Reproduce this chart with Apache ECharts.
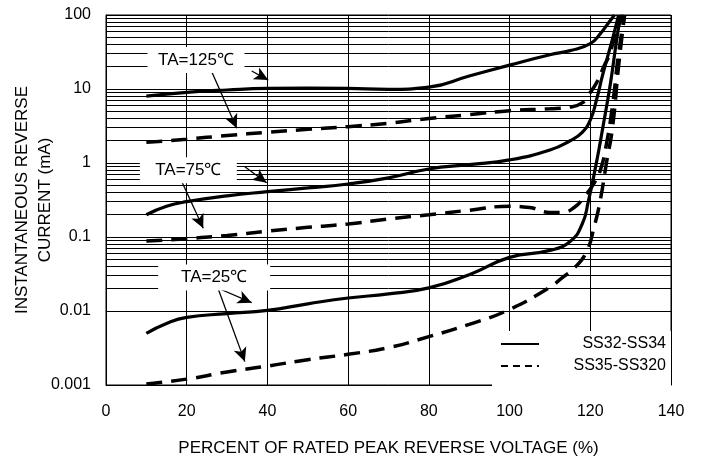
<!DOCTYPE html>
<html>
<head>
<meta charset="utf-8">
<script src="https://cdn.jsdelivr.net/npm/echarts@6/dist/echarts.min.js"></script>
<style>
    html, body { margin: 0; padding: 0; background: #fff; }
    #main { width: 704px; height: 464px; }
</style>
</head>
<body>
<div id="main"></div>
<script>
// x = percent of rated peak reverse voltage, y = reverse current (mA)
let xTicks = [0, 20, 40, 60, 80, 100, 120, 140]
let yLabels = ['0.001', '0.01', '0.1', '1', '10', '100']
let seriesNames = ['SS32-SS34', 'SS35-SS320']

// SS32-SS34 (solid)
let s125x = [10, 20, 30, 40, 50, 60, 70, 80, 90, 100, 110, 115, 120, 122.5, 124.5, 126]
let s125y = [8.0, 9.0, 9.7, 10.2, 10.3, 10.2, 9.9, 10.6, 15, 21, 29, 33, 41, 56, 78, 100]
let s75x = [10, 15, 20, 30, 40, 50, 60, 70, 80, 90, 100, 110, 115, 118, 120, 121.5, 123, 124.5, 126, 127]
let s75y = [0.2, 0.26, 0.3, 0.36, 0.41, 0.46, 0.52, 0.63, 0.83, 0.95, 1.1, 1.5, 2.0, 2.6, 3.8, 7, 15, 30, 60, 100]
let s25x = [10, 15, 20, 30, 40, 50, 60, 70, 80, 90, 100, 110, 115, 118, 119.5, 121.5, 123, 125, 126.5, 127.5]
let s25y = [0.005, 0.0068, 0.0082, 0.0092, 0.0102, 0.0125, 0.015, 0.017, 0.0205, 0.031, 0.053, 0.066, 0.087, 0.15, 0.3, 1.0, 2.8, 12, 45, 100]

// SS35-SS320 (dashed)
let d125x = [10, 20, 30, 40, 50, 60, 70, 80, 90, 100, 110, 115, 118, 119.5, 121.5, 123.5, 124.5, 126.5, 128]
let d125y = [1.9, 2.1, 2.35, 2.6, 2.85, 3.1, 3.45, 4.0, 4.5, 5.1, 5.4, 5.7, 6.5, 8.3, 12, 21, 27, 60, 100]
let d75x = [10, 20, 30, 40, 50, 60, 70, 80, 90, 100, 105, 110, 113, 116, 118.5, 121, 122.5, 124, 125.5, 127, 128.5]
let d75y = [0.088, 0.095, 0.105, 0.12, 0.135, 0.15, 0.175, 0.2, 0.23, 0.26, 0.25, 0.215, 0.215, 0.25, 0.35, 0.54, 0.8, 1.8, 6, 30, 100]
let d25x = [10, 20, 30, 40, 50, 60, 70, 80, 90, 100, 110, 113, 116, 119, 121, 122.5, 124, 125.5, 127, 128.5]
let d25y = [0.00103, 0.0012, 0.0015, 0.0018, 0.0022, 0.0026, 0.0032, 0.0045, 0.0066, 0.0105, 0.021, 0.028, 0.038, 0.062, 0.14, 0.32, 1.0, 3, 20, 100]

function pts(xs, ys) {
    return xs.map(function (x, i) { return [x, ys[i]] })
}

// minor log grid lines 2..9 of every decade
let minorLines = []
for (let d = -3; d < 2; d++) {
    for (let k = 2; k <= 9; k++) {
        minorLines.push({ yAxis: k * Math.pow(10, d) })
    }
}

let fontName = '"Liberation Sans", Arial, sans-serif'
let solidStyle = { color: '#000', width: 3.2, type: 'solid' }
let dashStyle = { color: '#000', width: 3.5, type: [16, 9] }

function curve(name, data, style) {
    return {
        name: name,
        type: 'line',
        data: data,
        symbol: 'none',
        smooth: 0.5,
        color: '#000',
        lineStyle: style,
        z: 3,
        silent: true
    }
}

var myChart = echarts.init(document.getElementById('main'))
var option = {
    animation: false,
    backgroundColor: '#fff',
    textStyle: { fontFamily: fontName },
    grid: {
        left: 106, right: 33, top: 15, bottom: 79,
        outerBoundsMode: 'none',
        containLabel: false,
        show: true, borderColor: '#000', borderWidth: 1
    },
    legend: {
        orient: 'vertical',
        left: 492,
        top: 331,
        backgroundColor: '#fff',
        padding: [5, 5, 13, 8],
        itemWidth: 38,
        itemHeight: 14,
        itemGap: 6,
        selectedMode: false,
        data: [
            { name: seriesNames[0], itemStyle: { opacity: 0 }, lineStyle: { width: 2, type: 'solid' } },
            { name: seriesNames[1], itemStyle: { opacity: 0 }, lineStyle: { width: 2, type: [7, 5] } }
        ],
        formatter: function (name) { return '{t|' + name + '}' },
        textStyle: {
            rich: {
                t: { width: 122, align: 'right', fontSize: 16, color: '#000', fontFamily: fontName }
            }
        }
    },
    xAxis: {
        type: 'value',
        min: xTicks[0],
        max: xTicks[xTicks.length - 1],
        interval: 20,
        name: 'PERCENT OF RATED PEAK REVERSE VOLTAGE (%)',
        nameLocation: 'middle',
        nameGap: 55,
        nameTextStyle: { fontSize: 17, color: '#000' },
        axisLine: { lineStyle: { color: '#000' } },
        axisTick: { show: false },
        axisLabel: { fontSize: 16, color: '#000', margin: 19 },
        splitLine: { show: true, lineStyle: { color: '#000', width: 1 } }
    },
    yAxis: {
        type: 'log',
        logBase: 10,
        min: 0.001,
        max: 100,
        name: 'INSTANTANEOUS REVERSE\nCURRENT (mA)',
        nameLocation: 'middle',
        nameMoveOverlap: false,
        nameGap: 49,
        nameTextStyle: { fontSize: 17, color: '#000', lineHeight: 23 },
        axisLine: { lineStyle: { color: '#000' } },
        axisTick: { show: false },
        axisLabel: {
            fontSize: 16, color: '#000', margin: 15,
            formatter: function (v) {
                return yLabels[Math.round(Math.log10(v)) + 3]
            }
        },
        splitLine: { show: true, lineStyle: { color: '#000', width: 1 } }
    },
    series: [
        {
            // helper: minor grid lines
            type: 'line',
            data: [],
            z: 1,
            silent: true,
            markLine: {
                silent: true,
                symbol: 'none',
                label: { show: false },
                animation: false,
                lineStyle: { color: '#000', width: 1, type: 'solid' },
                data: minorLines
            }
        },
        curve(seriesNames[0], pts(s125x, s125y), solidStyle),
        curve(seriesNames[0], pts(s75x, s75y), solidStyle),
        curve(seriesNames[0], pts(s25x, s25y), solidStyle),
        curve(seriesNames[1], pts(d125x, d125y), dashStyle),
        curve(seriesNames[1], pts(d75x, d75y), dashStyle),
        curve(seriesNames[1], pts(d25x, d25y), dashStyle),
        {
            // temperature notes with arrows
            type: 'line',
            data: [],
            z: 5,
            silent: true,
            markLine: {
                silent: true,
                animation: false,
                symbol: ['none', 'arrow'],
                symbolSize: [10, 14],
                label: { show: false },
                lineStyle: { color: '#000', width: 1.3, type: 'solid' },
                data: [
                    [{ coord: [36.1, 17.5] }, { coord: [40.2, 13.2] }],
                    [{ coord: [26.2, 17.1] }, { coord: [32.4, 2.94] }],
                    [{ coord: [34.4, 0.89] }, { coord: [39.8, 0.542] }],
                    [{ coord: [18.8, 0.558] }, { coord: [24.1, 0.131] }],
                    [{ coord: [27.8, 0.0203] }, { coord: [36.1, 0.01294] }],
                    [{ coord: [27.7, 0.0206] }, { coord: [34.4, 0.00207] }]
                ]
            },
            markPoint: {
                silent: true,
                animation: false,
                symbol: 'rect',
                itemStyle: { color: '#fff' },
                label: {
                    show: true, position: 'inside', color: '#000', fontSize: 17,
                    formatter: function (p) { return p.name }
                },
                data: [
                    { name: 'TA=125℃', coord: [22.3, 24.7], symbolSize: [97, 26] },
                    { name: 'TA=75℃', coord: [20.4, 0.80], symbolSize: [97, 26] },
                    { name: 'TA=25℃', coord: [26.8, 0.0284], symbolSize: [112, 26] }
                ]
            }
        }
    ]
}
myChart.setOption(option)
</script>
</body>
</html>
